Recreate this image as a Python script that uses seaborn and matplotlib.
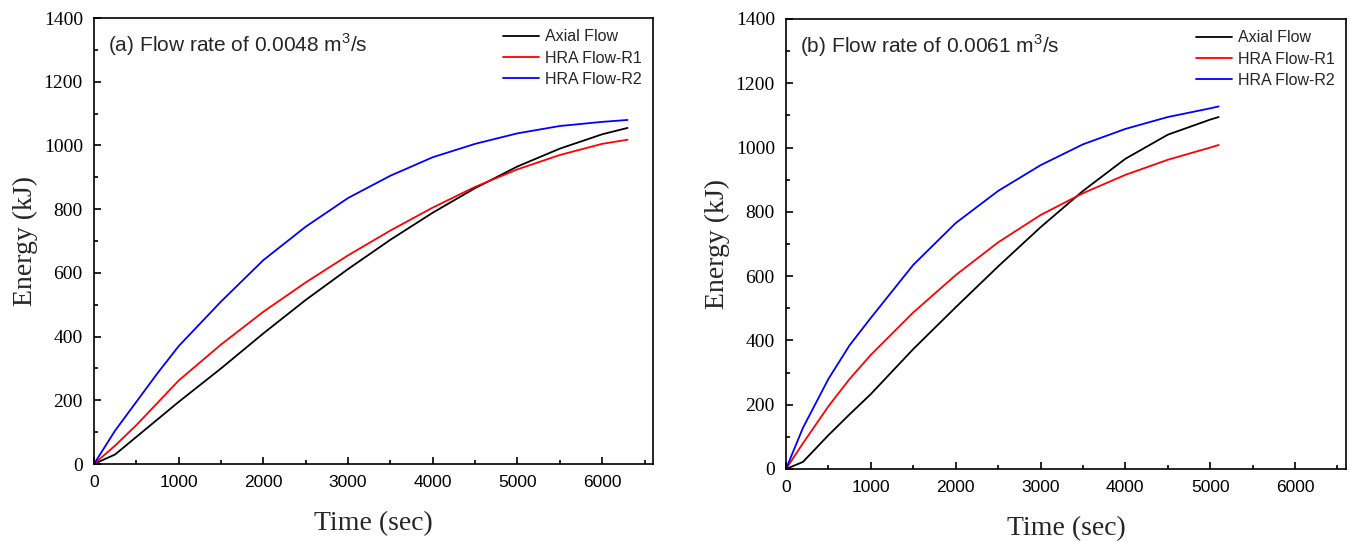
import pandas as pd
import seaborn as sns
import matplotlib.pyplot as plt
from matplotlib.ticker import MultipleLocator

# (a) flow rate 0.0048 m3/s
time_a = [0, 250, 500, 750, 1000, 1500, 2000, 2500, 3000, 3500, 4000, 4500, 5000, 5500, 6000, 6300]
axial_a = [0, 30, 85, 140, 195, 300, 410, 515, 612, 704, 789, 866, 934, 990, 1035, 1055]
r1_a = [0, 58, 122, 192, 262, 375, 478, 570, 655, 733, 805, 870, 925, 970, 1005, 1018]
r2_a = [0, 105, 195, 285, 370, 510, 640, 745, 835, 905, 963, 1005, 1038, 1061, 1074, 1080]

# (b) flow rate 0.0061 m3/s
time_b = [0, 200, 500, 750, 1000, 1500, 2000, 2500, 3000, 3500, 4000, 4500, 5000, 5100]
axial_b = [0, 22, 105, 170, 233, 373, 503, 630, 752, 865, 965, 1040, 1087, 1095]
r1_b = [0, 80, 195, 280, 355, 487, 603, 705, 790, 858, 915, 962, 1000, 1008]
r2_b = [0, 128, 280, 385, 470, 635, 765, 865, 945, 1010, 1058, 1095, 1122, 1128]

series_names = ["Axial Flow", "HRA Flow-R1", "HRA Flow-R2"]
colors = ["black", "red", "blue"]
titles = ["(a) Flow rate of 0.0048 m$^3$/s", "(b) Flow rate of 0.0061 m$^3$/s"]

sns.set_style("ticks")
plt.rcParams['font.family'] = ['Liberation Sans', 'DejaVu Sans']
plt.rcParams['mathtext.fontset'] = 'custom'
plt.rcParams['mathtext.rm'] = 'Liberation Sans'

fig = plt.figure(figsize=(13.5, 5.41), dpi=100)
ax1 = fig.add_axes([0.0696, 0.1423, 0.4141, 0.8244])
ax2 = fig.add_axes([0.5822, 0.1331, 0.4148, 0.8318])

panels = [
    (ax1, time_a, [axial_a, r1_a, r2_a], titles[0]),
    (ax2, time_b, [axial_b, r1_b, r2_b], titles[1]),
]

for ax, t, ys, title in panels:
    for name, col, y in zip(series_names, colors, ys):
        sns.lineplot(x=t, y=y, ax=ax, color=col, linewidth=1.3, label=name)
    ax.set_xlim(0, 6600)
    ax.set_ylim(0, 1400)
    ax.xaxis.set_major_locator(MultipleLocator(1000))
    ax.xaxis.set_minor_locator(MultipleLocator(500))
    ax.yaxis.set_major_locator(MultipleLocator(200))
    ax.yaxis.set_minor_locator(MultipleLocator(100))
    ax.tick_params(which='both', direction='in', width=1.2, colors='black')
    ax.tick_params(which='major', length=5)
    ax.tick_params(which='minor', length=3)
    ax.tick_params(axis='x', which='major', pad=8)
    ax.tick_params(axis='y', which='major', pad=8)
    for lab in ax.get_xticklabels():
        lab.set_fontsize(12.5)
    for lab in ax.get_yticklabels():
        lab.set_family('Liberation Serif')
        lab.set_fontsize(14)
    for sp in ax.spines.values():
        sp.set_linewidth(1.2)
        sp.set_color('black')
    ax.set_xlabel("Time (sec)", family='Liberation Serif', fontsize=20, labelpad=15)
    ax.set_ylabel("Energy (kJ)", family='Liberation Serif', fontsize=20, labelpad=4)
    ax.text(0.025, 0.94, title, transform=ax.transAxes, fontsize=15, va='center', ha='left')
    ax.legend(loc='upper right', frameon=False, fontsize=11.5, handlelength=2.3,
              handletextpad=0.35, labelspacing=0.4, borderaxespad=0.3)

fig.savefig("out.png", dpi=100)
